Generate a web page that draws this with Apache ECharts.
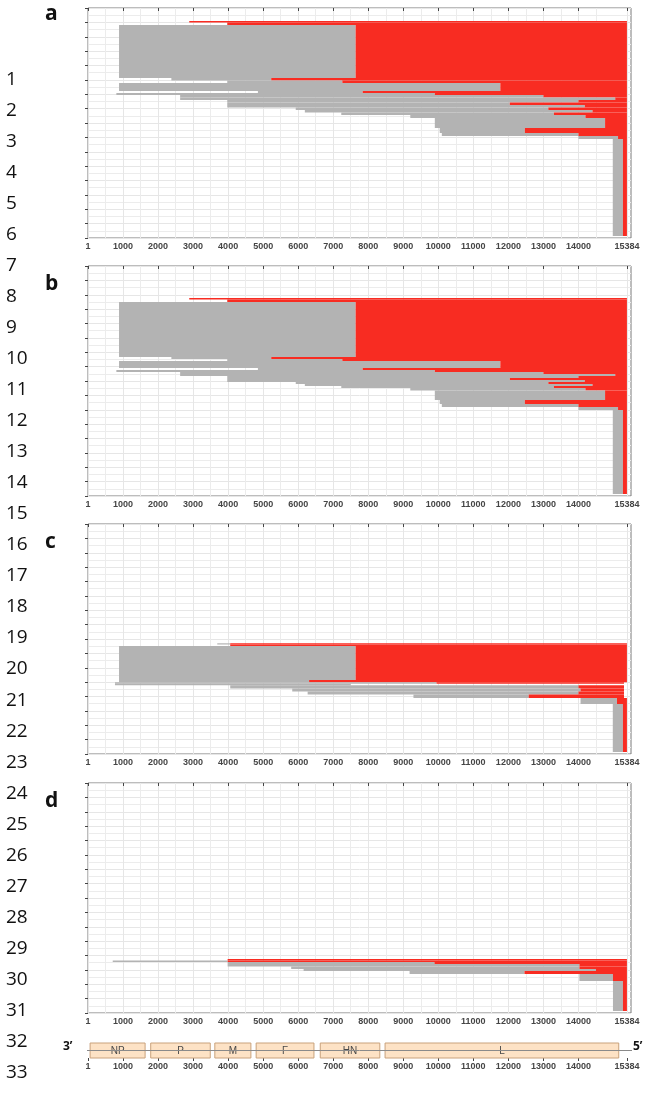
<!DOCTYPE html>
<html><head><meta charset="utf-8">
<script src="https://cdn.jsdelivr.net/npm/echarts@6/dist/echarts.min.js"></script>
<style>html,body{margin:0;padding:0;background:#fff}#c{width:646px;height:1096px}</style>
</head><body><div id="c"></div>
<script>
// x-axis tick labels (genome position, nt)
const xTicks = [1,1000,2000,3000,4000,5000,6000,7000,8000,9000,10000,11000,12000,13000,14000,15384];
const genomeLength = 15384;
// rows: [rowTop, rowBottom, grayStart, breakpoint, end]
const panelA = [
  [13,14.5,2890,2890,15384],[14.5,17,3975,3975,15384],[17,70,886,7640,15384],
  [70,72.5,2380,5230,15384],[72.5,75,3975,7260,15384],[75,83,886,11770,15384],
  [83,85,4850,7840,15384],[85,87,810,9900,15384],[87,89.5,2630,13000,15384],
  [89.5,92,2630,15050,15384],[92,94.5,3975,14000,15384],[94.5,97,3975,12040,15384],
  [97,99.5,3975,14180,15384],[99.5,102,5930,13140,15384],[102,104.5,6190,14400,15384],
  [104.5,107,7230,13300,15384],[107,110,9200,14200,15384],[110,120,9900,14760,15384],
  [120,125,10040,12470,15384],[125,128,10100,14000,15384],[128,131,14000,15130,15384],
  [131,228,14980,15270,15384]
];
const panelB = [
  [32,33.5,2890,2890,15384],[33.5,36,3975,3975,15384],[36,91,886,7640,15384],
  [91,93,2380,5230,15384],[93,95,3975,7260,15384],[95,102,886,11770,15384],
  [102,104,4850,7840,15384],[104,106,810,9900,15384],[106,108,2630,13000,15384],
  [108,110,2630,15050,15384],[110,112,3975,14000,15384],[112,114,3975,12040,15384],
  [114,116,3975,14180,15384],[116,118,5930,13140,15384],[118,120,6190,14400,15384],
  [120,122,7230,13300,15384],[122,124.5,9200,14200,15384],[124.5,134,9900,14760,15384],
  [134,138,10040,12470,15384],[138,141,10100,14000,15384],[141,144,14000,15130,15384],
  [144,228,14980,15270,15384]
];
const panelC = [
  [119.3,120.5,3690,4060,15384],[120.5,122,4060,4060,15384],[122,156,886,7640,15384],
  [156,158.3,886,6311,15384],[158.3,159.8,770,9950,15300],[159.8,161.3,770,7500,7500],
  [161.3,164.5,4060,14000,15300],[164.5,167.5,5830,14060,15300],[167.5,170.5,6270,14000,15300],
  [170.5,174,9290,12580,15300],[174,180,14060,15100,15384],[180,228,14980,15270,15384]
];
const panelD = [
  [176,177.5,3986,3986,15384],[177.5,179,706,3986,15384],[179,181,3986,9890,15384],
  [181,183.5,3986,14027,15384],[183.5,186,5800,14027,15384],[186,188,6155,14500,15384],
  [188,191,9180,12460,15384],[191,198,14027,14985,15384],[198,228,14985,15270,15384]
];
const panelLetters = ['a','b','c','d'];
const genes = ['NP','P','M','F','HN','L'];
const geneStart = [60,1790,3620,4800,6630,8480];
const geneEnd = [1630,3490,4650,6450,8330,15150];
const lineNumbers = Array.from({length:33},(_,i)=>String(i+1));

const chart = echarts.init(document.getElementById('c'));
const panels = [panelA,panelB,panelC,panelD];
const GRAY='#b3b3b3', RED='#f82c22';
const panelTop = [8,266,524,783], panelH = 230, gLeft = 88, gWidth = 543;
const fmt = v => String(v);
const grids=[], xAxes=[], yAxes=[], series=[];
panels.forEach((rows,i)=>{
  grids.push({left:gLeft,top:panelTop[i],width:gWidth,height:panelH,show:true,borderColor:'#7a7a7a',borderWidth:1,backgroundColor:'#fff'});
  xAxes.push({gridIndex:i,type:'value',min:0,max:15500,interval:1000,
    axisLine:{show:false},
    axisTick:{show:true,length:3,lineStyle:{color:'#444'},customValues:xTicks},
    axisLabel:{show:true,customValues:xTicks,formatter:fmt,fontSize:9,fontWeight:'bold',color:'#454545',fontFamily:'Liberation Sans',margin:4},
    splitLine:{show:true,lineStyle:{color:'#e6e6e6',width:1}},
    minorTick:{show:false,splitNumber:2},
    minorSplitLine:{show:true,lineStyle:{color:'#ececec',width:1}}});
  yAxes.push({gridIndex:i,type:'value',inverse:true,min:0,max:panelH,interval:panelH/16,
    axisLine:{show:false},axisLabel:{show:false},
    axisTick:{show:true,length:3,lineStyle:{color:'#444'}},
    splitLine:{show:true,lineStyle:{color:'#e6e6e6'}},
    minorTick:{show:false,splitNumber:2},
    minorSplitLine:{show:true,lineStyle:{color:'#ececec'}}});
  series.push({type:'custom',xAxisIndex:i,yAxisIndex:i,data:rows,clip:true,
    renderItem:(params,api)=>{
      const t=api.value(0),b=api.value(1),gs=api.value(2),bp=api.value(3),en=api.value(4);
      const p0=api.coord([gs,t]),p1=api.coord([bp,b]),p2=api.coord([en,b]);
      const ch=[];
      if(p1[0]>p0[0]) ch.push({type:'rect',shape:{x:p0[0],y:p0[1],width:p1[0]-p0[0],height:p1[1]-p0[1]},style:{fill:GRAY}});
      if(p2[0]>p1[0]) ch.push({type:'rect',shape:{x:p1[0],y:p0[1],width:p2[0]-p1[0],height:p1[1]-p0[1]},style:{fill:RED}});
      return {type:'group',children:ch};
    }});
});
// genome map
const gi = 4;
grids.push({left:gLeft,top:1043,width:gWidth,height:15,show:false});
xAxes.push({gridIndex:gi,type:'value',min:0,max:15500,interval:1000,
  axisLine:{show:false},
  axisTick:{show:true,length:3,lineStyle:{color:'#444'},customValues:xTicks},
  axisLabel:{show:true,customValues:xTicks,formatter:fmt,fontSize:9,fontWeight:'bold',color:'#454545',fontFamily:'Liberation Sans',margin:4},
  splitLine:{show:false}});
yAxes.push({gridIndex:gi,type:'value',min:0,max:1,show:false});
series.push({type:'line',xAxisIndex:gi,yAxisIndex:gi,data:[[-400,0.5],[genomeLength+250,0.5]],symbol:'none',silent:true,
  lineStyle:{color:'#8a8a8a',width:1}});
series.push({type:'custom',xAxisIndex:gi,yAxisIndex:gi,
  data:genes.map((g,k)=>[geneStart[k],geneEnd[k],g]),
  renderItem:(params,api)=>{
    const a=api.coord([api.value(0),1]),b=api.coord([api.value(1),0]);
    return {type:'group',children:[
      {type:'rect',shape:{x:a[0],y:a[1],width:b[0]-a[0],height:b[1]-a[1]},style:{fill:'#fde2c5',stroke:'#c9a27c',lineWidth:1}},
      {type:'text',style:{text:api.value(2),x:(a[0]+b[0])/2,y:(a[1]+b[1])/2+1,align:'center',verticalAlign:'middle',fontSize:10,fill:'#4a4a4a',fontFamily:'Liberation Sans'}}
    ]};
  }});
const graphics=[];
lineNumbers.forEach((n,k)=>graphics.push({type:'text',left:6,top:70+k*31.03,style:{text:n,fontSize:19,fontFamily:'Open Sans',fill:'#111'}}));
panelLetters.forEach((l,k)=>graphics.push({type:'text',left:45,top:k===0?4:panelTop[k]+8,style:{text:l,fontSize:21,fontWeight:'bold',fontFamily:'Open Sans',fill:'#111'}}));
graphics.push({type:'text',left:63,top:1041,style:{text:"3’",fontSize:12,fontWeight:'bold',fontFamily:'Open Sans',fill:'#111'}});
graphics.push({type:'text',left:633,top:1041,style:{text:"5’",fontSize:12,fontWeight:'bold',fontFamily:'Open Sans',fill:'#111'}});
chart.setOption({animation:false,grid:grids,xAxis:xAxes,yAxis:yAxes,series:series,graphic:graphics});
</script></body></html>
